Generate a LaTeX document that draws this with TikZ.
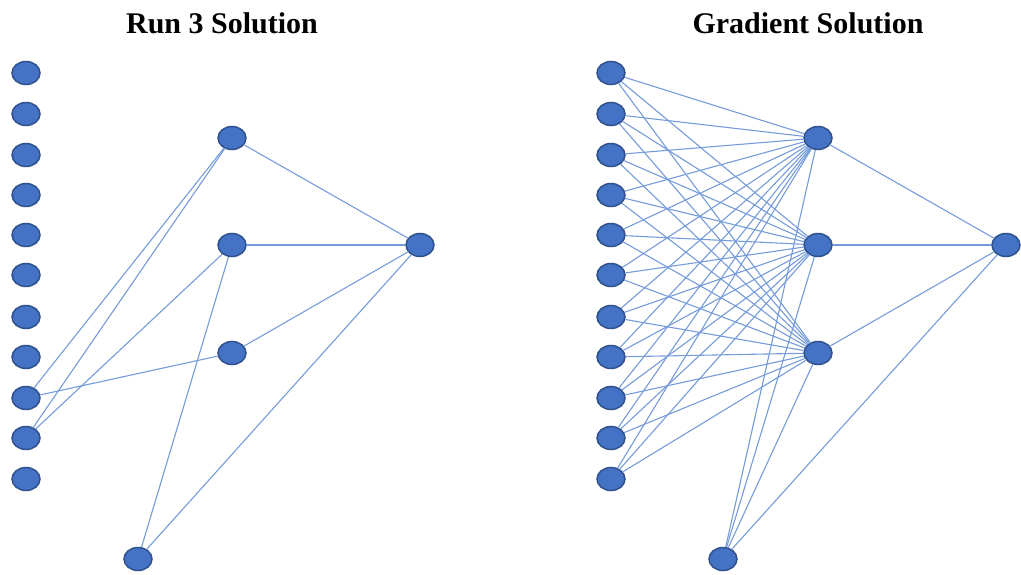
\documentclass[tikz,border=0pt]{standalone}
\usepackage{fontspec}
\setmainfont{Liberation Serif}
\usetikzlibrary{shapes.geometric}
\definecolor{nodefill}{HTML}{4472C4}
\definecolor{nodeedge}{HTML}{2F528F}
\definecolor{wire}{HTML}{759BDA}
\tikzset{
  neuron/.style={ellipse, fill=nodefill, draw=nodeedge, line width=1.5pt,
    minimum width=28pt, minimum height=23pt, inner sep=0pt},
  link/.style={draw=wire, line width=1.1pt},
  heading/.style={font=\bfseries\fontsize{30}{34}\selectfont, inner sep=0pt}
}
\begin{document}
\begin{tikzpicture}[x=1pt, y=-1pt]
\useasboundingbox (0,0) rectangle (1021,575);

% titles
\node[heading] (t1) at (222,23) {Run 3 Solution};
\node[heading] (t2) at (808,23) {Gradient Solution};

% ---- left network ----
\foreach \i/\y in {1/73,2/114,3/155,4/195,5/235,6/275,7/317,8/357,9/398,10/438,11/479}
  \node[neuron] (a\i) at (26,\y) {};
\node[neuron] (ah1) at (232,138) {};
\node[neuron] (ah2) at (232,245) {};
\node[neuron] (ah3) at (232,353) {};
\node[neuron] (ao) at (420,245) {};
\node[neuron] (ab) at (138,559) {};

\draw[link] (a9) -- (ah1);
\draw[link] (a10) -- (ah1);
\draw[link] (a10) -- (ah2);
\draw[link] (a9) -- (ah3);
\draw[link] (ab) -- (ah2);
\draw[link] (ab) -- (ao);
\foreach \h in {1,2,3}
  \draw[link] (ah\h) -- (ao);

% ---- right network ----
\foreach \i/\y in {1/73,2/114,3/155,4/195,5/235,6/275,7/317,8/357,9/398,10/438,11/479}
  \node[neuron] (b\i) at (611,\y) {};
\node[neuron] (bh1) at (818,138) {};
\node[neuron] (bh2) at (818,245) {};
\node[neuron] (bh3) at (818,353) {};
\node[neuron] (bo) at (1006,245) {};
\node[neuron] (bb) at (723,559) {};

\foreach \i in {1,...,11}
  \foreach \h in {1,2,3}
    \draw[link] (b\i) -- (bh\h);
\foreach \h in {1,2,3} {
  \draw[link] (bb) -- (bh\h);
  \draw[link] (bh\h) -- (bo);
}
\draw[link] (bb) -- (bo);
\end{tikzpicture}
\end{document}
